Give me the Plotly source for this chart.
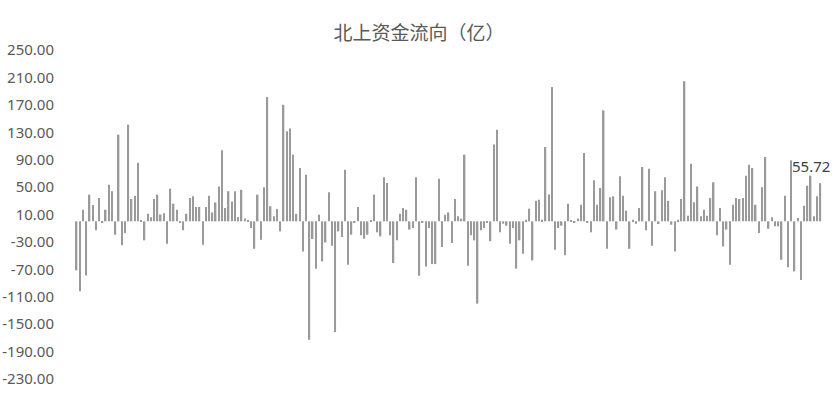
import plotly.graph_objects as go

flows = [
    -71.5, -102, 17, -79, 39, 24, -13, 34, -1, 17, 53.5, 44, -19.5, 126.5, -35, -17, 141, 32.6, 37.5, 85.6,
    1, -27.7, 11, 6, 32.6, 39, 10, 12,
    -32.6, 47.7, 25.8, 17, -1, -13, 11, 34, 36.5, 21, 21, -34, 21, 37.5, 13, 27.7, 51, 103.6, 19.5, 44,
    29, 44, 6, 46, 4, 1.5, -9.7, -40, 39, -26.8,
    49.6, 181.5, 22, 7.3, 18, -14.6, 170, 131.4, 135.3, 97.3, 11, 77.9, -43.8, 68, -172.7, -25.8, -69,
    9.7, -58.4, -30.7, 42.3, -35.5, -161.6, -14.6, -22.9, 75.4, -63.3, -19.5, -1,
    21, -20.4, -25.3, -19.5, 1, 39, -16, -21.9, 64.2, 56, -20.4, -60.8, -27.7, 11, 19.5, 17, -12, -9.7,
    64.2, -79.3, -2.4, -65.7, -9.7, -62.3, -62.3, 62.3, -37.5, 9.7, 13, -31.6,
    32.6, 7.3, 4, 97.3, -64.7, -20.4, -27.7, -120, -13, -9.7, -1, -29, 112, 133.8, -16, -3.4, -6.3,
    -32.6, -9.7, -69, -27.7, -47.2, 2.4, 18.5, -57, 30, 31.6, 2.4, 108.5,
    39, 196, -41.4, -9.7, -6.3, -49.6, 25.8, 1.5, -1, 4, 24.3, 99.8, -1.5, -16, 59.9, 24.3, 48.7, 162,
    -40, 35, 36.5, -12, 65.7, 37.5, 15.6, -40, 2.4, -3.4, 19.5,
    79.3, -13, 76.9, -35.5, 44, -3.9, 45.3, 64.2, 30, -4.9, -43.8, 2.4, 32.6, 204.4, 8.3, 84.2, 27.7,
    51, 7.3, 17, 8.3, 34, 57, -20.4, 19.5, -36.5, -12, -63.3, 24.3, 34,
    32.6, 34, 66.7, 82.7, 77.9, 24.3, -17, 49.6, 93.9, -10.7, 6, -7.3, -7.3, -56, 37.5, -67, 89, -73,
    4.9, -85.6, 22.9, 52, 66.7, 7.3, 36.5, 55.72,
]
days = list(range(1, len(flows) + 1))

title_text = "北上资金流向（亿）"
y_tick_values = [250, 210, 170, 130, 90, 50, 10, -30, -70, -110, -150, -190, -230]
y_tick_labels = ["250.00", "210.00", "170.00", "130.00", "90.00", "50.00", "10.00",
                 "-30.00", "-70.00", "-110.00", "-150.00", "-190.00", "-230.00"]

fig = go.Figure()
fig.add_trace(go.Bar(
    x=days, y=flows,
    marker=dict(color="#9a9a9a", line=dict(width=0)),
    hoverinfo="y",
))

fig.add_annotation(
    x=days[-1], y=flows[-1], text=f"{flows[-1]:.2f}",
    showarrow=False, xanchor="center", yanchor="bottom",
    xshift=-9, yshift=5,
    font=dict(family="Noto Sans, sans-serif", size=15, color="#404040"),
)

fig.update_layout(
    width=838, height=409, autosize=False,
    margin=dict(l=75, r=16, t=50, b=30),
    paper_bgcolor="white", plot_bgcolor="white",
    bargap=0.55,
    showlegend=False,
    title=dict(
        text=title_text, x=0.5, xanchor="center", y=0.919, yanchor="middle",
        font=dict(family="Noto Sans CJK SC, sans-serif", size=19, color="#595959"),
    ),
    xaxis=dict(
        visible=False, range=[0.5, len(flows) + 0.5],
    ),
    yaxis=dict(
        range=[min(y_tick_values), max(y_tick_values)],
        tickmode="array", tickvals=y_tick_values, ticktext=y_tick_labels,
        showgrid=False, zeroline=False, showline=False,
        ticks="", ticklabelstandoff=20, automargin=False,
        tickfont=dict(family="Noto Sans, sans-serif", size=15, color="#595959"),
    ),
)

fig.write_html(
    "out.html",
    config={"displayModeBar": False},
    post_script="document.body.style.margin='0';",
)
